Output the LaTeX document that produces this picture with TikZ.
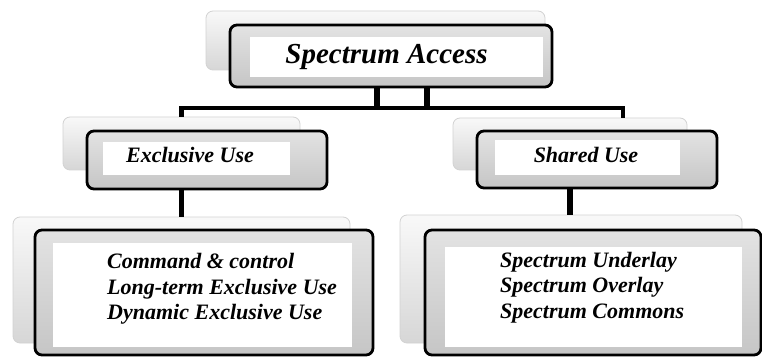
\documentclass[tikz,border=0pt]{standalone}
\usepackage{fontspec}
\setmainfont{Liberation Serif}
\usetikzlibrary{fit}
\begin{document}
\begin{tikzpicture}[x=1pt,y=-1pt,
  backbox/.style={draw=gray!35, line width=0.8pt, rounded corners=7pt, top color=gray!5, bottom color=gray!32, inner sep=0pt, outer sep=0pt},
  frontbox/.style={draw=black, line width=2.8pt, rounded corners=7pt, top color=gray!22, bottom color=gray!45, inner sep=0pt, outer sep=0pt},
  innerbox/.style={fill=white, draw=none, inner sep=0pt, outer sep=0pt},
  lbl/.style={font=\bfseries\itshape\fontsize{22}{25}\selectfont, inner sep=0pt},
  biglbl/.style={font=\bfseries\itshape\fontsize{29}{32}\selectfont, inner sep=0pt},
  conn/.style={line width=5.5pt, draw=black},
]
\useasboundingbox (0,0) rectangle (762,358);

% top group
\node[backbox, fit={(206,11) (545,70)}] (topB) {};
\node[frontbox, fit={(230,25) (552,87)}] (topF) {};
\node[innerbox, fit={(250,37) (543,77)}] (topI) {};
\node[biglbl, anchor=base] (topT) at (386.5,64) {Spectrum Access};

% exclusive
\node[backbox, fit={(63,117) (300,170)}] (exB) {};
\node[frontbox, fit={(87,131) (327,189)}] (exF) {};
\node[innerbox, fit={(103,142) (290,175)}] (exI) {};
\node[lbl, anchor=base] (exT) at (190,163) {Exclusive Use};

% shared
\node[backbox, fit={(453,118) (687,170)}] (shB) {};
\node[frontbox, fit={(477,131) (717,188)}] (shF) {};
\node[innerbox, fit={(495,140) (680,175)}] (shI) {};
\node[lbl, anchor=base] (shT) at (586,163) {Shared Use};

% bottom left
\node[backbox, fit={(13,217) (350,343)}] (blB) {};
\node[frontbox, fit={(35,230) (373,355)}] (blF) {};
\node[innerbox, fit={(53,243) (352,347)}] (blI) {};
\node[lbl, anchor=base west] (bl1) at (107,268) {Command \& control};
\node[lbl, anchor=base west] (bl2) at (107,294) {Long-term Exclusive Use};
\node[lbl, anchor=base west] (bl3) at (107,319) {Dynamic Exclusive Use};

% bottom right
\node[backbox, fit={(400,215) (742,343)}] (brB) {};
\node[frontbox, fit={(425,230) (761,355)}] (brF) {};
\node[innerbox, fit={(445,247) (742,347)}] (brI) {};
\node[lbl, anchor=base west] (br1) at (500,267) {Spectrum Underlay};
\node[lbl, anchor=base west] (br2) at (500,292) {Spectrum Overlay};
\node[lbl, anchor=base west] (br3) at (500,318) {Spectrum Commons};

% connectors
\coordinate (bus) at (400,108);
\coordinate (busR) at (623,108);
\draw[conn] ([xshift=-14pt]topF.south) -- ([xshift=-14pt]topF.south |- bus);
\draw[conn] ([xshift=36pt]topF.south) -- ([xshift=36pt]topF.south |- bus);
\draw[line width=4.2pt] (exB.north) |- (busR) -- (busR |- shB.north);
\draw[conn] (exF.south -| exB.south) -- (blB.north -| exB.south);
\draw[conn] (shF.south -| shB.south) -- (brB.north -| shB.south);
\end{tikzpicture}
\end{document}
